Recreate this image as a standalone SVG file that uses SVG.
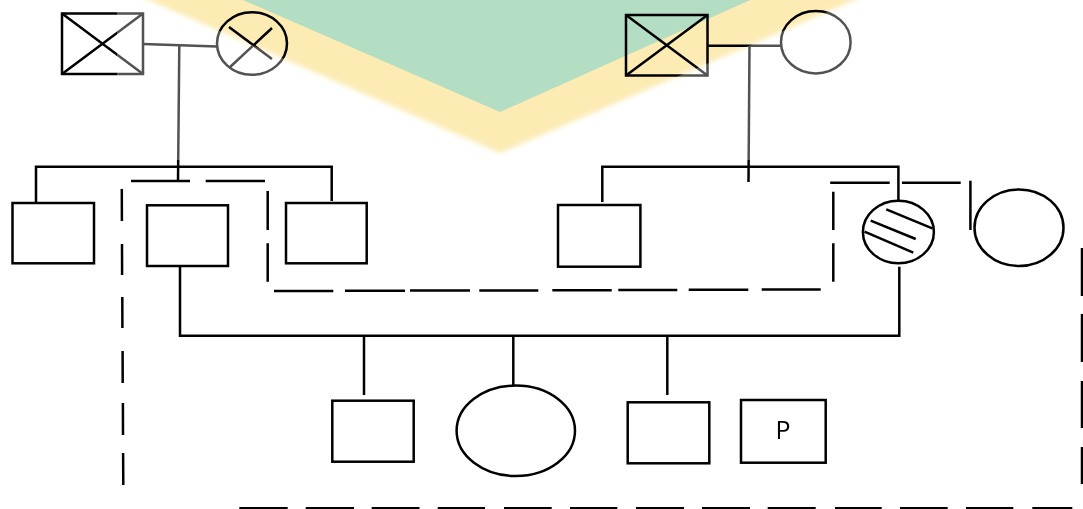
<svg xmlns="http://www.w3.org/2000/svg" width="1083" height="509" viewBox="0 0 1083 509">
  <style>
    .shape { fill: #ffffff; stroke: #000000; stroke-width: 2.5; }
    .mark { fill: none; stroke: #000000; stroke-width: 2.5; }
    .link { fill: none; stroke: #000000; stroke-width: 2.5; }
    .dash { fill: none; stroke: #000000; stroke-width: 2.5; }
    .label { font-family: "Open Sans", "Liberation Sans", sans-serif; font-size: 25px; fill: #000000; }
  </style>
  <defs>
    <filter id="soft" x="-10%" y="-20%" width="120%" height="140%">
      <feGaussianBlur stdDeviation="2.5"/>
    </filter>
  </defs>

  <rect x="0" y="0" width="1083" height="509" fill="#ffffff"/>

  <!-- generation I -->
  <g id="gf-paternal">
    <rect class="shape" x="62" y="13.5" width="81" height="60.5"/>
    <path class="mark" d="M62 13.5 L143 74 M62 74 L143 13.5"/>
  </g>
  <g id="gm-paternal">
    <ellipse class="shape" cx="252" cy="43.5" rx="35" ry="31.3"/>
    <path class="mark" d="M229 27 L272 59 M229 68 L272 28"/>
  </g>
  <g id="gf-maternal">
    <rect class="shape" x="626" y="15" width="81.5" height="60.5"/>
    <path class="mark" d="M626 15 L707.5 75.5 M626 75.5 L707.5 15"/>
  </g>
  <g id="gm-maternal">
    <ellipse class="shape" cx="815.8" cy="42.2" rx="34.8" ry="31.2"/>
  </g>

  <!-- generation II -->
  <g id="uncle-1">
    <rect class="shape" x="12.5" y="203" width="81.5" height="60.3"/>
  </g>
  <g id="father">
    <rect class="shape" x="147" y="205.3" width="81" height="60.7"/>
  </g>
  <g id="uncle-2">
    <rect class="shape" x="286" y="203" width="80.7" height="60.3"/>
  </g>
  <g id="maternal-uncle">
    <rect class="shape" x="558" y="205" width="82.4" height="61.7"/>
  </g>
  <g id="mother">
    <ellipse class="shape" cx="898.4" cy="232" rx="35.5" ry="31.3"/>
    <path class="mark" d="M886.3 209.3 L932.3 228.3 M870.7 220.7 L915.7 239 M864.5 231.7 L913.3 252.7"/>
  </g>
  <g id="maternal-aunt">
    <ellipse class="shape" cx="1019" cy="227.7" rx="44.5" ry="38.3"/>
  </g>

  <!-- generation III -->
  <g id="sibling-1">
    <rect class="shape" x="332.3" y="400.7" width="81.4" height="61"/>
  </g>
  <g id="sibling-2">
    <ellipse class="shape" cx="515.8" cy="430.8" rx="59.2" ry="45.2"/>
  </g>
  <g id="sibling-3">
    <rect class="shape" x="627.7" y="402.3" width="81.6" height="61"/>
  </g>
  <g id="proband">
    <rect class="shape" x="741" y="400" width="84.7" height="62.7"/>
    <text class="label" x="783" y="439" text-anchor="middle">P</text>
  </g>

  <!-- lines of descent and partnership -->
  <g id="connectors">
    <path class="link" d="M143 44 L217 46.5"/>
    <path class="link" d="M179.3 45.5 L178 182"/>
    <path class="link" d="M707.5 45.7 L781 45.7"/>
    <path class="link" d="M749.5 45.7 L748.5 182"/>
    <path class="link" d="M36 202 L36 166.7 L331.7 166.7 L331.7 201"/>
    <path class="link" d="M602.3 202 L602.3 166.7 L898.4 166.7 L898.4 200.7"/>
    <path class="link" d="M180 266 L180 335.7 L899.3 335.7 L899.3 266.7"/>
    <path class="link" d="M364 335.7 L364 395"/>
    <path class="link" d="M513.3 335.7 L513.3 385.7"/>
    <path class="link" d="M667.3 335.7 L667.3 395"/>
  </g>

  <!-- dashed enclosures -->
  <g id="boundaries">
    <path class="dash" d="M121.8 189 L121.9 221 M122 244 L122.1 275 M122.3 297 L122.4 328 M122.6 351 L122.7 383 M122.9 403 L123 435 M123.1 453 L123.3 485"/>
    <path class="dash" d="M131 181 L190 181 M205.7 181 L265 181"/>
    <path class="dash" d="M267.7 191 L267.7 230 M267.7 243.3 L267.7 281.7"/>
    <path class="dash" d="M274 291 L333.3 291 M345 290.8 L405 290.8 M410 290.6 L470 290.6 M479.3 290.4 L538.3 290.4 M552.3 290.2 L611.7 290.2 M618.3 290 L677.3 290 M688.7 289.7 L748.3 289.7 M761.7 289.5 L820.7 289.5"/>
    <path class="dash" d="M833.3 191.7 L833.3 230 M833.3 243.3 L833.3 281.7"/>
    <path class="dash" d="M830.2 182.7 L889.7 182.7 M901.9 182.7 L960.7 182.7"/>
    <path class="dash" d="M970.4 180.7 L970.4 230"/>
    <path class="dash" d="M1082 248 L1082 296 M1082 314 L1082 362 M1082 381 L1082 428 M1082 447 L1082 484"/>
    <path class="dash" d="M239.3 508.3 L287.7 508.3 M305.7 508.3 L354 508.3 M371.7 508.3 L419.5 508.3 M437.7 508.3 L485 508.3 M504 508.3 L551.7 508.3 M570 508.3 L617.3 508.3 M636 508.3 L684 508.3 M702 508.3 L750 508.3 M767.7 508.3 L815.7 508.3 M835 508.3 L881.7 508.3 M900 508.3 L947.7 508.3 M966 508.3 L1013.3 508.3 M1032.3 508.3 L1072.3 508.3"/>
  </g>

  <!-- translucent backdrop and chevron emblem laid over the top -->
  <path fill="#ffffff" fill-opacity="0.32" fill-rule="evenodd"
        d="M117 0 L890 0 L890 160 L117 160 Z M149 0 L500 153 L855 0 Z"/>
  <g id="emblem" style="mix-blend-mode:multiply">
    <polygon points="103,-20 500,153 901,-20" fill="#fcebb3" filter="url(#soft)"/>
    <polygon points="197,-20 500,112 795,-20" fill="#b3dec4"/>
  </g>
</svg>
